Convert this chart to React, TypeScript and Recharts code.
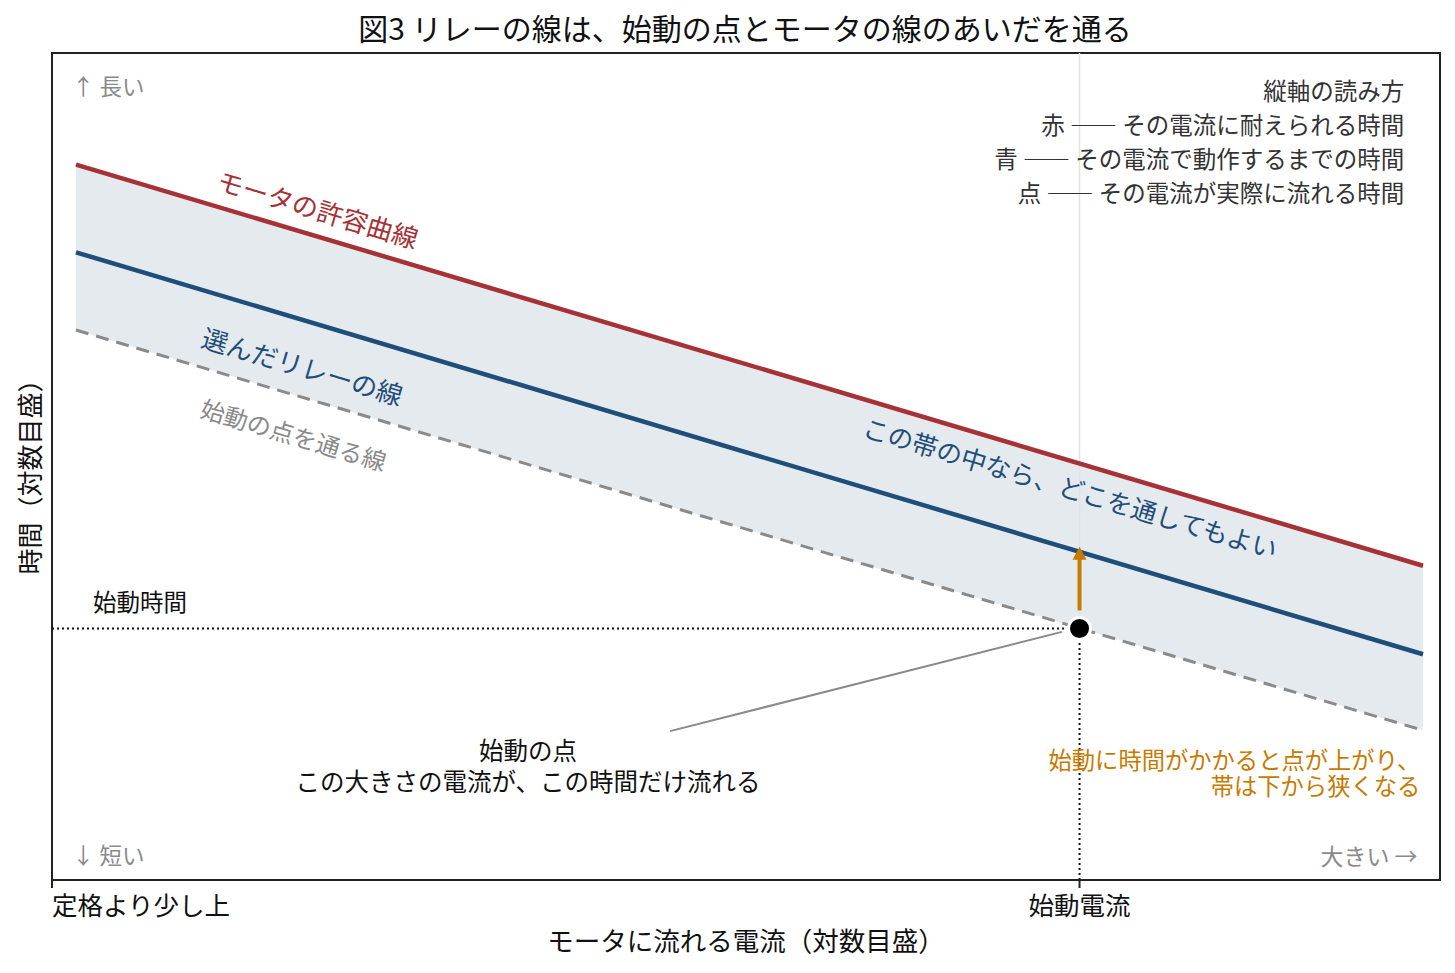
import React from 'react';
import {
  ComposedChart,
  Line,
  Area,
  XAxis,
  YAxis,
  ReferenceLine,
  ReferenceDot,
  ReferenceArea,
} from 'recharts';

// current on a log scale, in arbitrary units (0 = a bit above rated, 100 = right end)
const currentPoints = [0, 100];
const motorLimit = [86.5, 38.0]; // red: how long the motor can stand that current
const relayCurve = [75.9, 27.3]; // blue: how long until the relay trips
const startLine = [66.5, 18.1]; // gray dashed: line through the starting point

const startCurrent = 74.5;
const startTime = 30.4;
const arrowFrom = 32.6;
const arrowTo = 40.3;

const xDomain = [-1.78, 101.26];
const yDomain = [0, 100];
const xTickValues = [-1.78, 74.5];
const xTickLabels = ['定格より少し上', '始動電流'];

const legendLines = [
  '縦軸の読み方',
  '赤 ―― その電流に耐えられる時間',
  '青 ―― その電流で動作するまでの時間',
  '点 ―― その電流が実際に流れる時間',
];

const FONT = '"Noto Sans CJK JP", "Noto Sans", sans-serif';
const RED = '#a63235';
const BLUE = '#1f4e79';
const GRAY = '#8a8a8a';
const ORANGE = '#c87a00';
const SLOPE_DEG = 16.6;

const tableData = currentPoints.map((x, i) => ({
  x,
  red: motorLimit[i],
  blue: relayCurve[i],
  gray: startLine[i],
  band: [startLine[i], motorLimit[i]],
}));

type NoteOpts = {
  anchor?: 'start' | 'middle' | 'end';
  color?: string;
  size?: number;
  rotate?: number;
  lineHeight?: number;
};

// text placed at a data position, drawn through ReferenceDot so it follows the scales
const note = (key: string, x: number, y: number, lines: string[], o: NoteOpts = {}) => {
  const { anchor = 'start', color = '#111', size = 23, rotate = 0, lineHeight = 31 } = o;
  return (
    <ReferenceDot
      key={key}
      x={x}
      y={y}
      r={0}
      ifOverflow="visible"
      shape={(p: any) => (
        <text
          x={p.cx}
          y={p.cy}
          fill={color}
          fontSize={size}
          fontFamily={FONT}
          textAnchor={anchor}
          dominantBaseline="central"
          transform={rotate ? `rotate(${rotate}, ${p.cx}, ${p.cy})` : undefined}
        >
          {lines.map((t, i) => (
            <tspan key={i} x={p.cx} dy={i === 0 ? 0 : lineHeight}>
              {t}
            </tspan>
          ))}
        </text>
      )}
    />
  );
};

const renderTick = (props: any) => {
  const { x, y, index } = props;
  return (
    <text
      x={x}
      y={y + 13}
      fill="#111"
      fontSize={25.5}
      fontFamily={FONT}
      textAnchor={index === 0 ? 'start' : 'middle'}
      dominantBaseline="central"
    >
      {xTickLabels[index]}
    </text>
  );
};

const renderArrow = (p: any) => {
  const head = 13;
  return (
    <g>
      <line x1={p.x1} y1={p.y1} x2={p.x2} y2={p.y2 + head - 2} stroke={ORANGE} strokeWidth={4} />
      <polygon
        points={`${p.x2},${p.y2} ${p.x2 - 7},${p.y2 + head} ${p.x2 + 7},${p.y2 + head}`}
        fill={ORANGE}
      />
    </g>
  );
};

export default function App() {
  return (
    <div style={{ position: 'absolute', left: 0, top: 0, width: 1455, height: 973, background: '#fff' }}>
      <div
        style={{
          position: 'absolute',
          left: 0,
          top: 8,
          width: 1490,
          textAlign: 'center',
          fontFamily: FONT,
          fontSize: 30,
          lineHeight: '38px',
          color: '#111',
        }}
      >
        図3 リレーの線は、始動の点とモータの線のあいだを通る
      </div>
      <ComposedChart
        width={1455}
        height={973}
        data={tableData}
        margin={{ top: 53, right: 15, bottom: 33, left: 22 }}
      >
        <XAxis
          dataKey="x"
          type="number"
          domain={xDomain}
          ticks={xTickValues}
          allowDataOverflow
          height={60}
          axisLine={{ stroke: '#222', strokeWidth: 2 }}
          tickLine={{ stroke: '#222', strokeWidth: 2 }}
          tickSize={8}
          tick={renderTick}
          label={(p: any) => (
            <text
              x={p.viewBox.x + p.viewBox.width / 2}
              y={939}
              fill="#111"
              fontSize={26.5}
              fontFamily={FONT}
              textAnchor="middle"
              dominantBaseline="central"
            >
              モータに流れる電流（対数目盛）
            </text>
          )}
        />
        <YAxis
          type="number"
          domain={yDomain}
          allowDataOverflow
          width={30}
          tick={false}
          axisLine={false}
          tickLine={false}
          label={(p: any) => {
            const cy = p.viewBox.y + p.viewBox.height / 2 + 4;
            return (
              <text
                x={28}
                y={cy}
                fill="#111"
                fontSize={26}
                fontFamily={FONT}
                textAnchor="middle"
                dominantBaseline="central"
                transform={`rotate(-90, 28, ${cy})`}
              >
                時間（対数目盛）
              </text>
            );
          }}
        />

        <Area
          dataKey="band"
          type="linear"
          fill="#e5eaef"
          fillOpacity={1}
          stroke="none"
          isAnimationActive={false}
        />

        <ReferenceLine
          segment={[
            { x: startCurrent, y: startTime },
            { x: startCurrent, y: yDomain[1] },
          ]}
          stroke="#e3e3e3"
          strokeWidth={1.5}
        />

        <Line dataKey="gray" type="linear" stroke={GRAY} strokeWidth={3} strokeDasharray="13 8" dot={false} isAnimationActive={false} />
        <Line dataKey="blue" type="linear" stroke={BLUE} strokeWidth={4.5} dot={false} isAnimationActive={false} />
        <Line dataKey="red" type="linear" stroke={RED} strokeWidth={4.5} dot={false} isAnimationActive={false} />

        <ReferenceLine
          segment={[
            { x: xDomain[0], y: startTime },
            { x: startCurrent, y: startTime },
          ]}
          stroke="#111"
          strokeWidth={2}
          strokeDasharray="2 3"
        />
        <ReferenceLine
          segment={[
            { x: startCurrent, y: yDomain[0] },
            { x: startCurrent, y: startTime },
          ]}
          stroke="#111"
          strokeWidth={2}
          strokeDasharray="2 3"
        />
        <ReferenceLine
          segment={[
            { x: 44.1, y: 18.0 },
            { x: 73.2, y: 30.0 },
          ]}
          stroke="#8a8a8a"
          strokeWidth={2}
        />
        <ReferenceLine
          segment={[
            { x: startCurrent, y: arrowFrom },
            { x: startCurrent, y: arrowTo },
          ]}
          shape={renderArrow}
        />
        <ReferenceDot x={startCurrent} y={startTime} r={11} fill="#000" stroke="#fff" strokeWidth={3} />

        {note('long', -0.3, 96.1, ['↑ 長い'], { color: GRAY, size: 22.5 })}
        {note('short', -0.3, 3.1, ['↓ 短い'], { color: GRAY, size: 22.5 })}
        {note('big', 99.6, 3.0, ['大きい →'], { color: GRAY, size: 23, anchor: 'end' })}
        {note('legend', 98.6, 95.5, legendLines, { color: '#333', size: 23.5, anchor: 'end', lineHeight: 34 })}
        {note('stime', 1.26, 33.7, ['始動時間'], { size: 23.5 })}
        {note('spoint', 33.56, 15.8, ['始動の点', 'この大きさの電流が、この時間だけ流れる'], { size: 24.5, anchor: 'middle', lineHeight: 31 })}
        {note('orange', 99.8, 14.6, ['始動に時間がかかると点が上がり、', '帯は下から狭くなる'], { color: ORANGE, size: 23.3, anchor: 'end', lineHeight: 26 })}
        {note('redlbl', 18.0, 81.3, ['モータの許容曲線'], { color: RED, size: 26, anchor: 'middle', rotate: SLOPE_DEG })}
        {note('bluelbl', 16.85, 62.3, ['選んだリレーの線'], { color: BLUE, size: 26, anchor: 'middle', rotate: SLOPE_DEG })}
        {note('graylbl', 16.2, 54.0, ['始動の点を通る線'], { color: GRAY, size: 24, anchor: 'middle', rotate: SLOPE_DEG })}
        {note('bandlbl', 73.87, 47.6, ['この帯の中なら、どこを通してもよい'], { color: BLUE, size: 25.5, anchor: 'middle', rotate: SLOPE_DEG })}

        <ReferenceArea
          x1={xDomain[0]}
          x2={xDomain[1]}
          y1={yDomain[0]}
          y2={yDomain[1]}
          fill="none"
          fillOpacity={0}
          stroke="#222"
          strokeWidth={2}
          ifOverflow="visible"
        />
      </ComposedChart>
    </div>
  );
}
